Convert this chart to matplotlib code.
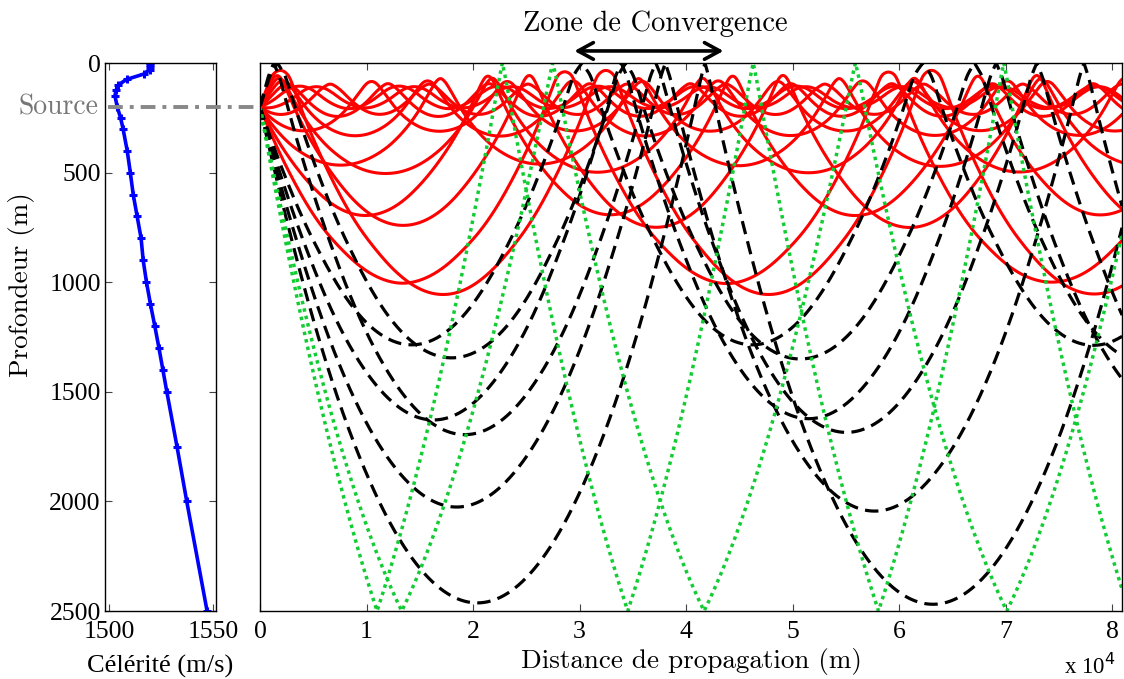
import math
import bisect
import numpy as np
import matplotlib
matplotlib.use('Agg')
import matplotlib.pyplot as plt
import matplotlib.transforms as mtransforms
from matplotlib.lines import Line2D

# ---------------- data ----------------
depth_m = [0, 10, 20, 30, 50, 75, 100, 125, 150, 200, 250, 300, 400, 500, 600,
           700, 800, 900, 1000, 1100, 1200, 1300, 1400, 1500, 1750, 2000, 2500]
speed_ms = [1519.5, 1519.8, 1519.8, 1519.6, 1516.8, 1508.4, 1504.4, 1503.3, 1502.8,
            1503.9, 1505.5, 1506.7, 1508.7, 1510.2, 1511.6, 1513.5, 1515.4, 1516.4,
            1518.0, 1519.9, 1522.0, 1524.0, 1525.9, 1527.8, 1532.7, 1537.4, 1547.2]
source_depth = 200
bottom_depth = 2500
max_range = 81000
# launch angles (degrees, positive = towards the bottom)
launch_angles_deg = [-10.92, -9.51, -8.10, -6.69, -5.28, -3.87, -2.46, -1.05,
                     0.79, 2.20, 3.61, 5.02, 6.43, 7.84, 9.25, 10.66, 12.07,
                     13.48, 14.89, 16.30]
# calibration of traced ranges against the reference ray cycles
range_scale = 1.08
x_ticks = [0, 10000, 20000, 30000, 40000, 50000, 60000, 70000, 80000]
x_tick_labels = ['0', '1', '2', '3', '4', '5', '6', '7', '8']
depth_ticks = [0, 500, 1000, 1500, 2000, 2500]
speed_ticks = [1500, 1550]

# ---------------- ray tracing ----------------
zl = [float(v) for v in depth_m]
cl = [float(v) for v in speed_ms]
gl = [(cl[i + 1] - cl[i]) / (zl[i + 1] - zl[i]) for i in range(len(zl) - 1)]


def c_g(z):
    i = bisect.bisect_right(zl, z) - 1
    i = min(max(i, 0), len(gl) - 1)
    return cl[i] + gl[i] * (z - zl[i]), gl[i]


def deriv(z, th):
    c, g = c_g(z)
    return math.cos(th), math.sin(th), -math.cos(th) * g / c


def trace(theta_deg, ds=10.0):
    r, z, th = 0.0, float(source_depth), math.radians(theta_deg)
    rs, zs = [r], [z]
    surf = bot = False
    rmax = max_range / range_scale + 200
    while r < rmax:
        dr1, dz1, dt1 = deriv(z, th)
        zm = z + 0.5 * ds * dz1
        thm = th + 0.5 * ds * dt1
        dr2, dz2, dt2 = deriv(zm, thm)
        rn = r + ds * dr2
        zn = z + ds * dz2
        th = th + ds * dt2
        if zn < 0:
            f = z / (z - zn)
            rs.append(r + f * (rn - r)); zs.append(0.0)
            zn = -zn; th = -th; surf = True
        elif zn > bottom_depth:
            f = (bottom_depth - z) / (zn - z)
            rs.append(r + f * (rn - r)); zs.append(float(bottom_depth))
            zn = 2 * bottom_depth - zn; th = -th; bot = True
        r, z = rn, zn
        rs.append(r); zs.append(z)
    return np.array(rs) * range_scale, np.array(zs), surf, bot


rays = [trace(a) for a in launch_angles_deg]

# ---------------- figure ----------------
W, H = 1124, 679
fig = plt.figure(figsize=(W / 100, H / 100), dpi=100)

serif_tick = ['Liberation Serif', 'DejaVu Serif']
cm_font = ['cmr10', 'Liberation Serif']

ax_l = fig.add_axes([105 / W, 1 - 611 / H, 111 / W, 548 / H])
ax_m = fig.add_axes([260 / W, 1 - 611 / H, 862 / W, 548 / H])

# left: sound speed profile
ax_l.plot(speed_ms, depth_m, color='#0000ff', lw=2.6, marker='+', ms=6, mew=2.2)
ax_l.set_xlim(1498, 1551.5)
ax_l.set_ylim(bottom_depth, 0)
ax_l.set_xticks(speed_ticks)
ax_l.set_yticks(depth_ticks)
ax_l.set_xticklabels([str(v) for v in speed_ticks], fontfamily=serif_tick, fontsize=18.5)
ax_l.set_yticklabels([str(v) for v in depth_ticks], fontfamily=serif_tick, fontsize=18.5)
ax_l.tick_params(direction='in', length=5, width=0.8, top=True, right=True, pad=3,
                 color='#444444')
ax_l.tick_params(axis='x', pad=7.5)
ax_l.set_xlabel('Célérité (m/s)', fontfamily=serif_tick, fontsize=19, labelpad=8.5)

# main: rays
reds = [(r, z) for r, z, s, b in rays if not s and not b]
blacks = [(r, z) for r, z, s, b in rays if s and not b]
greens = [(r, z) for r, z, s, b in rays if b]
for r, z in reds:
    ax_m.plot(r, z, color='#ff0000', lw=2.2, solid_capstyle='round')
for r, z in blacks:
    ax_m.plot(r, z, color='black', lw=2.3, dashes=(4.2, 2.3))
for r, z in greens:
    ax_m.plot(r, z, color='#11cc33', lw=2.5, dashes=(1.0, 1.2))

ax_m.set_xlim(0, 80900)
ax_m.set_ylim(bottom_depth, 0)
ax_m.set_xticks(x_ticks)
ax_m.set_xticklabels(x_tick_labels, fontfamily=serif_tick, fontsize=18.5)
ax_m.set_yticks([])
ax_m.tick_params(direction='in', length=5, width=0.8, top=True, pad=7.5, color='#444444')
ax_m.set_xlabel('Distance de propagation (m)', fontfamily=cm_font, fontsize=19.5, labelpad=3)

for ax in (ax_l, ax_m):
    for sp in ax.spines.values():
        sp.set_linewidth(1.0)

# source line across both axes
tr = mtransforms.blended_transform_factory(fig.transFigure, ax_l.transData)
fig.add_artist(Line2D([108 / W, 260 / W], [source_depth, source_depth], transform=tr,
                      color='#888888', lw=2.8, dashes=(3.8, 1.8, 1.0, 1.8)))
fig.text(98 / W, source_depth, 'Source', transform=tr, ha='right', va='center',
         fontfamily=cm_font, fontsize=20, color='#777777')

fig.text(22 / W, 1 - 285 / H, 'Profondeur (m)', rotation=90, ha='center', va='center',
         fontfamily=cm_font, fontsize=19.5)

# convergence zone annotation
ax_m.annotate('', xy=(29500, -55), xytext=(43500, -55), xycoords='data',
              arrowprops=dict(arrowstyle='<->,head_length=0.55,head_width=0.3',
                              color='black', lw=2.6, mutation_scale=20,
                              shrinkA=0, shrinkB=0),
              annotation_clip=False)
ax_m.text(37100, -178, 'Zone de Convergence', ha='center', va='center',
          fontfamily=cm_font, fontsize=20.5, clip_on=False)

fig.text(1090 / W, 1 - 666 / H, 'x 10$^4$', ha='center', va='center',
         fontfamily=serif_tick, fontsize=16.5)

fig.savefig('out.png', dpi=100)
